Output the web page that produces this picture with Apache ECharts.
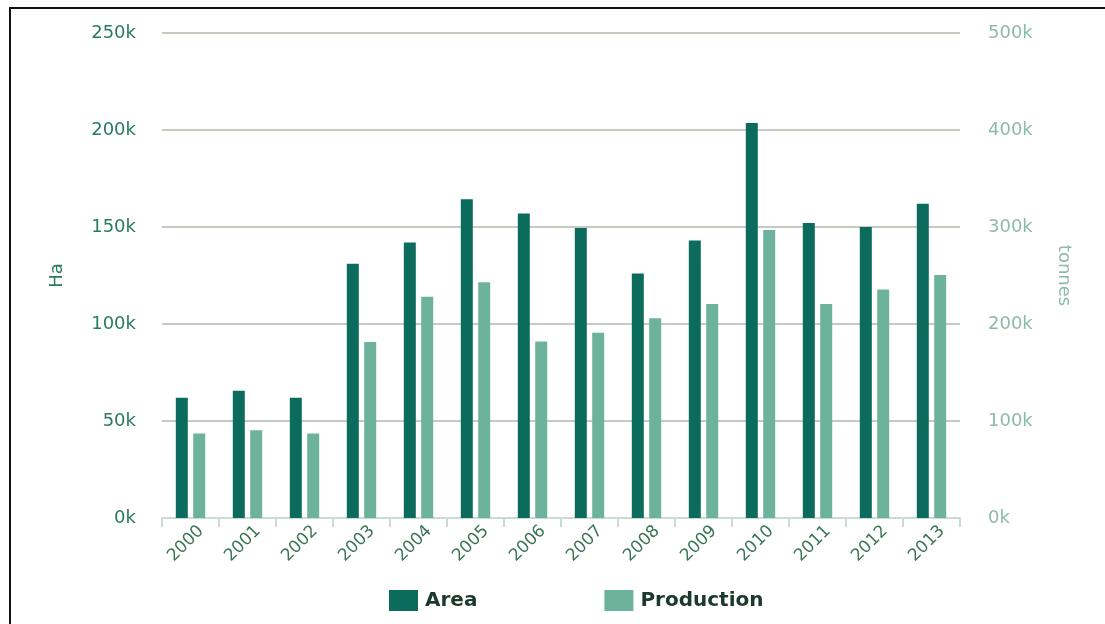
<!DOCTYPE html>
<html>
<head>
<meta charset="utf-8">
<script src="https://cdn.jsdelivr.net/npm/echarts@6/dist/echarts.min.js"></script>
<style>
  html, body { margin: 0; padding: 0; background: #fff; }
  #chart { width: 1105px; height: 624px; }
</style>
</head>
<body>
<div id="chart"></div>
<script>
// Yearly harvested area (ha) and production (tonnes)
const years = ['2000','2001','2002','2003','2004','2005','2006','2007','2008','2009','2010','2011','2012','2013'];
const areaHa = [62000, 65600, 62000, 131000, 142000, 164300, 157000, 149500, 126000, 143000, 203600, 152000, 150000, 162000];
const productionT = [87000, 90500, 87000, 181500, 228000, 243000, 182000, 191000, 206000, 220500, 297000, 220500, 235500, 250500];
const leftTicks = { min: 0, max: 250000, interval: 50000 };
const rightTicks = { min: 0, max: 500000, interval: 100000 };

const FONT = '"DejaVu Sans", sans-serif';
const kFmt = v => (v / 1000) + 'k';

const chart = echarts.init(document.getElementById('chart'), null, { renderer: 'canvas' });
chart.setOption({
  animation: false,
  backgroundColor: '#ffffff',
  grid: { left: 162, right: 145, top: 33, bottom: 106, containLabel: false },
  legend: {
    left: 384,
    top: 585,
    itemWidth: 29,
    itemHeight: 21,
    itemGap: 127,
    icon: 'rect',
    textStyle: { fontFamily: FONT, fontSize: 20, fontWeight: 'bold', color: '#1c3a2b', padding: [2, 0, 0, 2] },
    data: ['Area', 'Production']
  },
  xAxis: {
    type: 'category',
    data: years,
    axisLine: { lineStyle: { color: '#cadbd4', width: 2 } },
    axisTick: { show: true, length: 9, alignWithLabel: false, lineStyle: { color: '#cadbd4', width: 2 } },
    axisLabel: {
      rotate: 45,
      margin: 21,
      padding: [0, -15, 0, 0],
      fontFamily: FONT,
      fontSize: 17,
      color: '#3a7554',
      interval: 0
    }
  },
  yAxis: [
    {
      type: 'value',
      min: leftTicks.min, max: leftTicks.max, interval: leftTicks.interval,
      name: 'Ha',
      nameLocation: 'middle',
      nameGap: 96,
      nameTextStyle: { fontFamily: FONT, fontSize: 18, color: '#2a7a60' },
      axisLine: { show: false },
      axisTick: { show: false },
      axisLabel: { formatter: kFmt, margin: 26, fontFamily: FONT, fontSize: 18, color: '#2a7a60' },
      splitLine: { lineStyle: { color: '#c6cbc2', width: 2 } }
    },
    {
      type: 'value',
      position: 'right',
      min: rightTicks.min, max: rightTicks.max, interval: rightTicks.interval,
      name: 'tonnes',
      nameLocation: 'middle',
      nameRotate: -90,
      nameGap: 95,
      nameTextStyle: { fontFamily: FONT, fontSize: 18, color: '#8dbba5' },
      axisLine: { show: false },
      axisTick: { show: false },
      axisLabel: { formatter: kFmt, margin: 28, fontFamily: FONT, fontSize: 18, color: '#8dbba5' },
      splitLine: { show: false }
    }
  ],
  series: [
    {
      name: 'Area',
      type: 'bar',
      yAxisIndex: 0,
      data: areaHa,
      barWidth: 12,
      barGap: '45%',
      itemStyle: { color: '#0b6b5d' }
    },
    {
      name: 'Production',
      type: 'bar',
      yAxisIndex: 1,
      data: productionT,
      barWidth: 12,
      barGap: '45%',
      itemStyle: { color: '#6db39c' }
    }
  ],
  graphic: [
    { type: 'line', shape: { x1: 10, y1: 8, x2: 10, y2: 624 }, style: { stroke: '#111', lineWidth: 2 } },
    { type: 'line', shape: { x1: 9, y1: 8, x2: 1105, y2: 8 }, style: { stroke: '#111', lineWidth: 2 } }
  ]
});
</script>
</body>
</html>
